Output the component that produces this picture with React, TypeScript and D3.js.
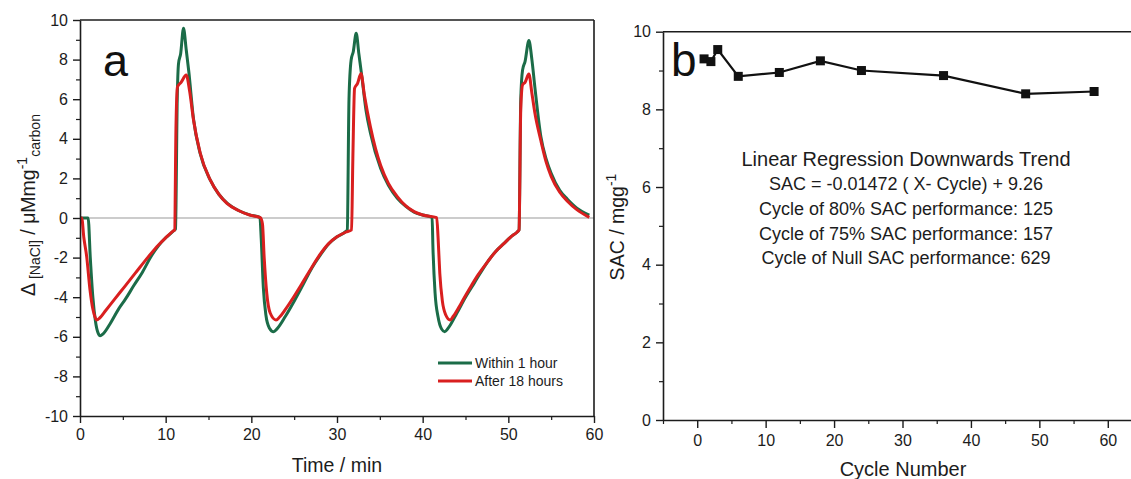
import React, { useEffect, useRef } from "react";
import * as d3 from "d3";

// panel a: concentration change vs time (two series, each with its own time points)
const withinTime = [
  0, 0.95, 1.2, 1.5, 1.8, 2.1, 2.35, 2.7, 3.5, 4.5, 5.3, 6.3, 7.2, 8.4, 9.2, 10.0, 11.0, 11.15, 11.35, 11.5, 11.75, 12.08, 12.4, 12.7, 13.25, 14.0, 15.2, 16.2, 17.2, 18.5, 19.8, 21.0,
  21.15, 21.4, 21.7, 22.1, 22.6, 23.0, 24.0, 25.0, 26.0, 27.1, 28.0, 29.05, 30.0, 31.0, 31.2, 31.4, 31.65, 31.9, 32.24, 32.55, 32.9, 33.4, 33.9, 35.1, 36.0, 37.04, 38.0, 39.0, 40.0, 41.1,
  41.2, 41.45, 41.8, 42.2, 42.57, 43.0, 44.0, 45.0, 46.0, 47.6, 48.5, 49.5, 50.3, 51.07, 51.25, 51.45, 51.66, 51.95, 52.4, 52.75, 53.1, 53.8, 54.4, 55.0, 56.0, 56.9, 58.0, 59.45,
];
const withinValue = [
  0, 0, -2.0, -4.0, -5.2, -5.8, -5.95, -5.85, -5.35, -4.6, -4.1, -3.4, -2.8, -1.87, -1.38, -1.0, -0.62, -0.55, 6.0, 7.8, 8.3, 9.58, 8.5, 7.4, 5.0, 3.3, 1.92, 1.2, 0.74, 0.38, 0.16, 0.03,
  -1.0, -3.5, -4.9, -5.55, -5.74, -5.6, -4.95, -4.2, -3.4, -2.5, -1.9, -1.3, -0.95, -0.69, -0.6, 6.0, 7.98, 8.4, 9.33, 8.3, 7.14, 5.4, 4.3, 2.5, 1.65, 1.0, 0.6, 0.3, 0.15, 0.03,
  -1.5, -3.8, -5.0, -5.6, -5.74, -5.55, -4.8, -4.0, -3.3, -2.2, -1.7, -1.28, -0.95, -0.69, -0.6, 6.0, 7.47, 7.9, 8.96, 8.0, 6.6, 4.1, 3.0, 2.26, 1.4, 0.95, 0.5, 0.15,
];
const afterTime = [
  0, 0.2, 0.45, 0.78, 1.17, 1.5, 1.75, 1.95, 2.3, 3.0, 4.0, 5.26, 6.5, 7.99, 9.16, 10.0, 10.9, 11.05, 11.2, 11.38, 11.8, 12.4, 12.8, 13.25, 14.04, 15.2, 16.2, 17.15, 18.5, 19.8, 21.05,
  21.3, 21.5, 21.8, 22.2, 22.88, 23.3, 24.0, 25.0, 26.0, 27.1, 28.0, 29.05, 30.0, 31.0, 31.7, 31.85, 32.05, 32.4, 32.8, 33.2, 33.9, 34.5, 35.1, 36.0, 37.04, 38.0, 39.0, 40.0, 41.64,
  41.8, 42.0, 42.3, 42.7, 43.2, 43.6, 44.5, 45.5, 46.5, 47.6, 48.5, 49.5, 50.3, 51.07, 51.25, 51.45, 51.66, 51.95, 52.4, 52.75, 53.1, 53.8, 54.4, 55.0, 56.0, 56.9, 58.0, 59.45,
];
const afterValue = [
  0, 0, -1.0, -1.95, -3.64, -4.6, -5.0, -5.15, -5.05, -4.67, -4.12, -3.44, -2.76, -1.95, -1.36, -1.0, -0.65, -0.6, 4.5, 6.63, 6.85, 7.22, 6.4, 4.95, 3.27, 1.92, 1.2, 0.74, 0.38, 0.15, 0.02,
  -0.3, -2.0, -3.8, -4.8, -5.15, -5.0, -4.6, -3.95, -3.25, -2.46, -1.85, -1.28, -0.95, -0.72, -0.6, 3.0, 6.55, 6.8, 7.3, 6.2, 4.6, 3.5, 2.65, 1.75, 1.08, 0.62, 0.32, 0.15, 0.02,
  -1.0, -2.8, -4.2, -4.9, -5.15, -4.95, -4.3, -3.55, -2.85, -2.2, -1.7, -1.28, -0.95, -0.69, -0.6, 5.5, 6.72, 6.85, 7.27, 6.3, 5.3, 3.9, 2.85, 2.1, 1.3, 0.85, 0.42, 0.03,
];
const legendLabels = ["Within 1 hour", "After 18 hours"];
const seriesColors = ["#1b6c48", "#d91f1f"];

// panel b: SAC per cycle
const cycles = [1, 2, 3, 6, 12, 18, 24, 36, 48, 58];
const sac = [9.3, 9.23, 9.54, 8.85, 8.95, 9.25, 9.0, 8.87, 8.4, 8.46];
const noteLines = [
  "Linear Regression Downwards Trend",
  "SAC = -0.01472 ( X- Cycle) + 9.26",
  "Cycle of 80% SAC performance: 125",
  "Cycle of 75% SAC performance: 157",
  "Cycle of Null SAC performance: 629",
];

const font = "'Liberation Sans', Arial, sans-serif";
const ink = "#1c1c1c";

// scales
const xA = d3.scaleLinear().domain([0, 60]).range([80, 594]);
const yA = d3.scaleLinear().domain([-10, 10]).range([416, 20]);
const xB = d3.scaleLinear().domain([-5, 65]).range([663, 1142]);
const yB = d3.scaleLinear().domain([0, 10]).range([420, 31.7]);

const plain = (d) => String(d); // keep ASCII hyphen for negatives

const drawAxis = (el, axis, minor) => {
  const g = d3.select(el);
  g.call(axis);
  g.attr("font-family", font).attr("font-size", 16);
  g.select(".domain").attr("stroke", ink).attr("stroke-width", 1.6);
  g.selectAll(".tick line").attr("stroke", ink).attr("stroke-width", 1.4);
  g.selectAll(".tick text").attr("fill", ink);
  const m = g.append("g");
  m.call(minor);
  m.select(".domain").remove();
  m.selectAll(".tick line").attr("stroke", ink).attr("stroke-width", 1.2);
};

const range = (a, b, s) => d3.range(a, b + 0.001, s);

export default function App() {
  const axA = useRef(null);
  const ayA = useRef(null);
  const axB = useRef(null);
  const ayB = useRef(null);

  useEffect(() => {
    [axA, ayA, axB, ayB].forEach((r) => d3.select(r.current).selectAll("*").remove());
    drawAxis(
      axA.current,
      d3.axisBottom(xA).tickValues(range(0, 60, 10)).tickFormat(plain).tickSize(7).tickPadding(6).tickSizeOuter(0),
      d3.axisBottom(xA).tickValues(range(5, 55, 10)).tickSize(4).tickFormat(() => "")
    );
    drawAxis(
      ayA.current,
      d3.axisLeft(yA).tickValues(range(-10, 10, 2)).tickFormat(plain).tickSize(7).tickPadding(5).tickSizeOuter(0),
      d3.axisLeft(yA).tickValues(range(-9, 9, 2)).tickSize(4).tickFormat(() => "")
    );
    drawAxis(
      axB.current,
      d3.axisBottom(xB).tickValues(range(0, 60, 10)).tickFormat(plain).tickSize(8).tickPadding(7).tickSizeOuter(0),
      d3.axisBottom(xB).tickValues(range(-5, 65, 10)).tickSize(4).tickFormat(() => "")
    );
    drawAxis(
      ayB.current,
      d3.axisLeft(yB).tickValues(range(0, 10, 2)).tickFormat(plain).tickSize(7).tickPadding(5).tickSizeOuter(0),
      d3.axisLeft(yB).tickValues(range(1, 9, 2)).tickSize(4).tickFormat(() => "")
    );
  }, []);

  const curve = d3
    .line()
    .x((d) => xA(d[0]))
    .y((d) => yA(d[1]))
    .curve(d3.curveMonotoneX);
  const within = withinTime.map((t, i) => [t, withinValue[i]]);
  const after = afterTime.map((t, i) => [t, afterValue[i]]);

  const sacLine = d3
    .line()
    .x((d, i) => xB(cycles[i]))
    .y((d) => yB(d));

  return (
    <svg
      width={1131}
      height={479}
      style={{ position: "absolute", left: 0, top: 0, background: "#fff" }}
      fontFamily={font}
    >
      <rect width={1131} height={479} fill="#fff" />

      {/* panel a */}
      <line x1={xA(0)} x2={xA(60)} y1={yA(0)} y2={yA(0)} stroke="#9a9a9a" strokeWidth={1.2} />
      <path d={curve(within)} fill="none" stroke={seriesColors[0]} strokeWidth={3} strokeLinejoin="round" />
      <path d={curve(after)} fill="none" stroke={seriesColors[1]} strokeWidth={3} strokeLinejoin="round" />
      <line x1={xA(0)} x2={xA(60)} y1={yA(10)} y2={yA(10)} stroke={ink} strokeWidth={1.6} />
      <line x1={xA(60)} x2={xA(60)} y1={yA(10)} y2={yA(-10)} stroke={ink} strokeWidth={1.6} />
      <g ref={axA} transform={`translate(0,${yA(-10)})`} />
      <g ref={ayA} transform={`translate(${xA(0)},0)`} />
      <text x={103} y={76} fontSize={45} fill="#111">a</text>
      {legendLabels.map((label, i) => (
        <g key={label} transform={`translate(438,${363 + i * 18})`}>
          <line x1={0} x2={34} stroke={seriesColors[i]} strokeWidth={3} />
          <text x={37} y={5} fontSize={14} fill={ink}>{label}</text>
        </g>
      ))}
      <text x={337} y={472} fontSize={19.5} textAnchor="middle" fill={ink}>Time / min</text>
      <text transform="translate(35,205) rotate(-90)" textAnchor="middle" fontSize={19.5} fill={ink}>
        <tspan>Δ</tspan>
        <tspan fontSize={14} dy={5}> [NaCl]</tspan>
        <tspan dy={-5}> / μMmg</tspan>
        <tspan fontSize={14} dy={-8}>-1</tspan>
        <tspan fontSize={14} dy={13}>carbon</tspan>
      </text>

      {/* panel b */}
      <line x1={xB(-5)} x2={1131} y1={yB(10)} y2={yB(10)} stroke={ink} strokeWidth={1.6} />
      <g ref={axB} transform={`translate(0,${yB(0)})`} />
      <g ref={ayB} transform={`translate(${xB(-5)},0)`} />
      <path d={sacLine(sac)} fill="none" stroke="#111" strokeWidth={2.2} />
      {sac.map((v, i) => (
        <rect key={i} x={xB(cycles[i]) - 4.5} y={yB(v) - 4.5} width={9} height={9} fill="#111" />
      ))}
      <text x={671} y={76} fontSize={46} fill="#111">b</text>
      {noteLines.map((s, i) => (
        <text
          key={s}
          x={906}
          y={i === 0 ? 165.5 : 190 + (i - 1) * 24.8}
          fontSize={i === 0 ? 20 : 18}
          textAnchor="middle"
          fill={ink}
        >
          {s}
        </text>
      ))}
      <text x={903} y={476} fontSize={20} textAnchor="middle" fill={ink}>Cycle Number</text>
      <text transform="translate(624,227) rotate(-90)" textAnchor="middle" fontSize={19.5} fill={ink}>
        <tspan>SAC / mgg</tspan>
        <tspan fontSize={14} dy={-8}>-1</tspan>
      </text>
    </svg>
  );
}
